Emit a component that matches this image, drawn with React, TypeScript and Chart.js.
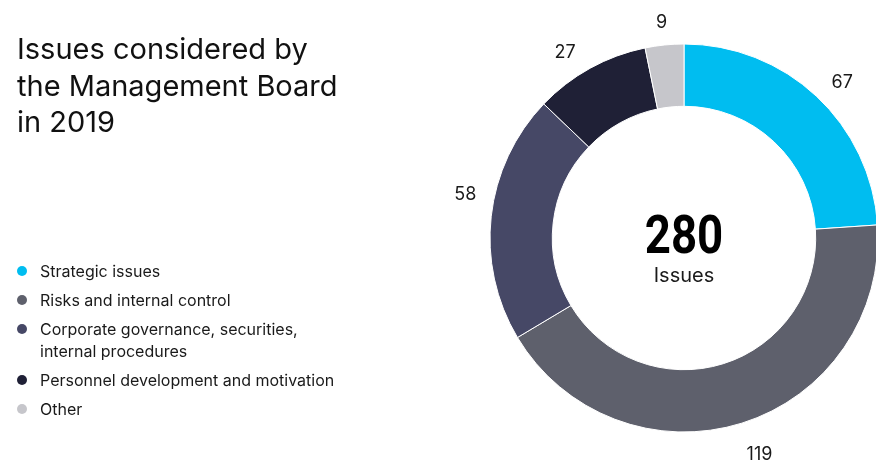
import React, { useEffect, useRef } from "react";
import { Chart, registerables } from "chart.js";

Chart.register(...registerables);

const categories = [
  "Strategic issues",
  "Risks and internal control",
  "Corporate governance, securities, internal procedures",
  "Personnel development and motivation",
  "Other",
];
const legendLines = [
  ["Strategic issues"],
  ["Risks and internal control"],
  ["Corporate governance, securities,", "internal procedures"],
  ["Personnel development and motivation"],
  ["Other"],
];
const values = [67, 119, 58, 27, 9];
const colors = ["#00bdf0", "#5e606c", "#464866", "#1f2036", "#c6c6cb"];
const titleLines = ["Issues considered by", "the Management Board", "in 2019"];
const centerValue = "280";
const centerLabel = "Issues";

// small manual nudges of the outer value labels (px), styling only
const labelNudge: [number, number][] = [
  [6, 7],
  [9, 4],
  [3, -18],
  [-11, 10],
  [0, 6],
];

const labelPlugin = {
  id: "outerLabels",
  afterDatasetsDraw(chart: any) {
    const ctx = chart.ctx;
    const meta = chart.getDatasetMeta(0);
    ctx.save();
    ctx.font = "400 18px Inter";
    ctx.fillStyle = "#1a1a1a";
    ctx.textAlign = "center";
    ctx.textBaseline = "middle";
    let cx = 0;
    let cy = 0;
    meta.data.forEach((arc: any, i: number) => {
      const p = arc.getProps(["x", "y", "startAngle", "endAngle", "outerRadius"], true);
      cx = p.x;
      cy = p.y;
      const mid = (p.startAngle + p.endAngle) / 2;
      const r = p.outerRadius + 29;
      const n = labelNudge[i] || [0, 0];
      ctx.fillText(
        String(values[i]),
        p.x + Math.cos(mid) * r + n[0],
        p.y + Math.sin(mid) * r + n[1]
      );
    });
    // center text
    ctx.save();
    ctx.translate(cx, cy + 15);
    ctx.scale(0.86, 1);
    ctx.font = "700 53px Roboto";
    ctx.fillStyle = "#000";
    ctx.textBaseline = "alphabetic";
    ctx.fillText(centerValue, 0, 0);
    ctx.restore();
    ctx.font = "400 20px Inter";
    ctx.fillStyle = "#1a1a1a";
    ctx.textBaseline = "middle";
    ctx.fillText(centerLabel, cx, cy + 38);
    ctx.restore();
  },
};

export default function App() {
  const ref = useRef<HTMLCanvasElement | null>(null);
  useEffect(() => {
    if (!ref.current) return;
    const chart = new Chart(ref.current, {
      type: "doughnut",
      data: {
        labels: categories,
        datasets: [
          {
            data: values,
            backgroundColor: colors,
            borderColor: "#ffffff",
            borderWidth: 1,
            radius: 194,
            cutout: 130,
          } as any,
        ],
      },
      options: {
        responsive: false,
        maintainAspectRatio: false,
        animation: false,
        layout: { padding: { left: 492, right: 0, top: 44, bottom: 32 } },
        plugins: { legend: { display: false }, tooltip: { enabled: false } },
      },
      plugins: [labelPlugin],
    });
    return () => chart.destroy();
  }, []);

  return (
    <div
      style={{
        position: "absolute",
        left: 0,
        top: 0,
        width: 876,
        height: 464,
        background: "#fff",
        overflow: "hidden",
        fontFamily: "Inter, sans-serif",
        color: "#1a1a1a",
      }}
    >
      <canvas ref={ref} width={876} height={464} style={{ position: "absolute", left: 0, top: 0 }} />
      <div
        style={{
          position: "absolute",
          left: 17,
          top: 31,
          fontSize: 29,
          lineHeight: "36.5px",
          fontWeight: 400,
          color: "#111",
        }}
      >
        {titleLines.map((t, i) => (
          <div key={i}>{t}</div>
        ))}
      </div>
      <div style={{ position: "absolute", left: 0, top: 260, fontSize: 16 }}>
        {legendLines.map((lines, i) => (
          <div key={i} style={{ position: "relative", marginBottom: 7, lineHeight: "22px" }}>
            <span
              style={{
                position: "absolute",
                left: 17,
                top: 6,
                width: 10,
                height: 10,
                borderRadius: 5,
                background: colors[i],
              }}
            />
            <div style={{ paddingLeft: 40 }}>
              {lines.map((l, j) => (
                <div key={j}>{l}</div>
              ))}
            </div>
          </div>
        ))}
      </div>
    </div>
  );
}
